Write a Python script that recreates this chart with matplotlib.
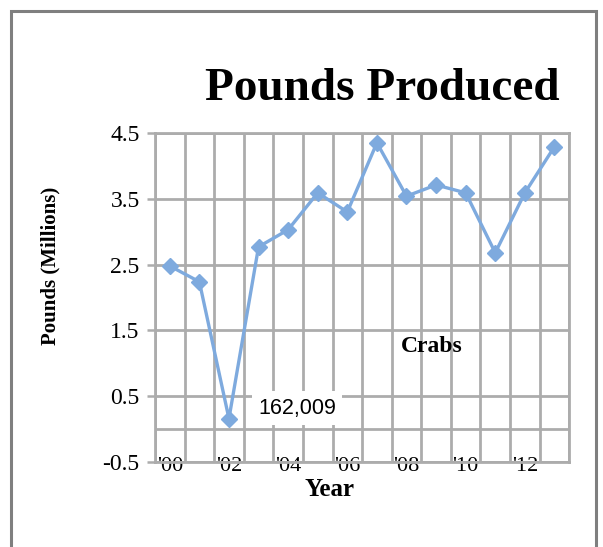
import matplotlib
matplotlib.use("Agg")
import matplotlib.pyplot as plt
from matplotlib.patches import Rectangle

# crab landings, millions of pounds
years = list(range(2000, 2014))
pounds = [2.48, 2.24, 0.162, 2.77, 3.03, 3.59, 3.30, 4.35, 3.54, 3.71, 3.59, 2.68, 3.59, 4.29]
tick_labels = ["'00", "'02", "'04", "'06", "'08", "'10", "'12"]
y_ticks = [-0.5, 0.5, 1.5, 2.5, 3.5, 4.5]

SERIF = "Liberation Serif"
GRID = "#acacac"
LINE = "#7eaade"

fig = plt.figure(figsize=(6.03, 5.47), dpi=100, facecolor="white")

# outer frame of the chart object
fig.add_artist(Rectangle((0.018, -0.05), 0.970, 1.03, transform=fig.transFigure,
                         fill=False, edgecolor="#7f7f7f", linewidth=2.2))

ax = fig.add_axes([0.257, 0.155, 0.687, 0.602])
x = list(range(len(years)))
ax.plot(x, pounds, color=LINE, linewidth=2.4, marker="D", markersize=8,
        markerfacecolor=LINE, markeredgecolor=LINE, zorder=3)

ax.set_xlim(-0.5, len(years) - 0.5)
ax.set_ylim(-0.5, 4.5)

# vertical grid on category boundaries, labels every other year
ax.set_xticks([i - 0.5 for i in range(len(years) + 1)], minor=True)
ax.set_xticks(x[::2])
ax.set_xticklabels(tick_labels, fontsize=16, family=SERIF)
ax.tick_params(axis="x", which="both", length=0, pad=-4)

ax.set_yticks(y_ticks)
ax.set_yticklabels([f"{v:.1f}" for v in y_ticks], fontsize=17, family=SERIF)
ax.tick_params(axis="y", length=6, width=1.8, color=GRID, pad=5)

ax.grid(True, axis="x", which="minor", color=GRID, linewidth=2.0)
ax.grid(True, axis="y", which="major", color=GRID, linewidth=2.0)
ax.axhline(0, color=GRID, linewidth=2.0, zorder=1)
for s in ax.spines.values():
    s.set_color(GRID)
    s.set_linewidth(2.0)

ax.text(8.85, 1.26, "Crabs", fontsize=17, fontweight="bold", family=SERIF,
        ha="center", va="center")
ax.text(4.3, 0.32, "162,009", fontsize=15.5, family="Liberation Sans",
        ha="center", va="center", zorder=4,
        bbox=dict(boxstyle="square,pad=0.3", facecolor="white", edgecolor="none"))

fig.text(382 / 603, 1 - 89 / 547, "Pounds Produced", fontsize=34, fontweight="bold",
         family=SERIF, ha="center", va="center")
fig.text(50 / 603, 1 - 266 / 547, "Pounds (Millions)", fontsize=15, fontweight="bold",
         family=SERIF, rotation=90, ha="center", va="center")
fig.text(330 / 603, 1 - 490 / 547, "Year", fontsize=18, fontweight="bold",
         family=SERIF, ha="center", va="center")

fig.savefig("out.png", dpi=100, facecolor="white")
